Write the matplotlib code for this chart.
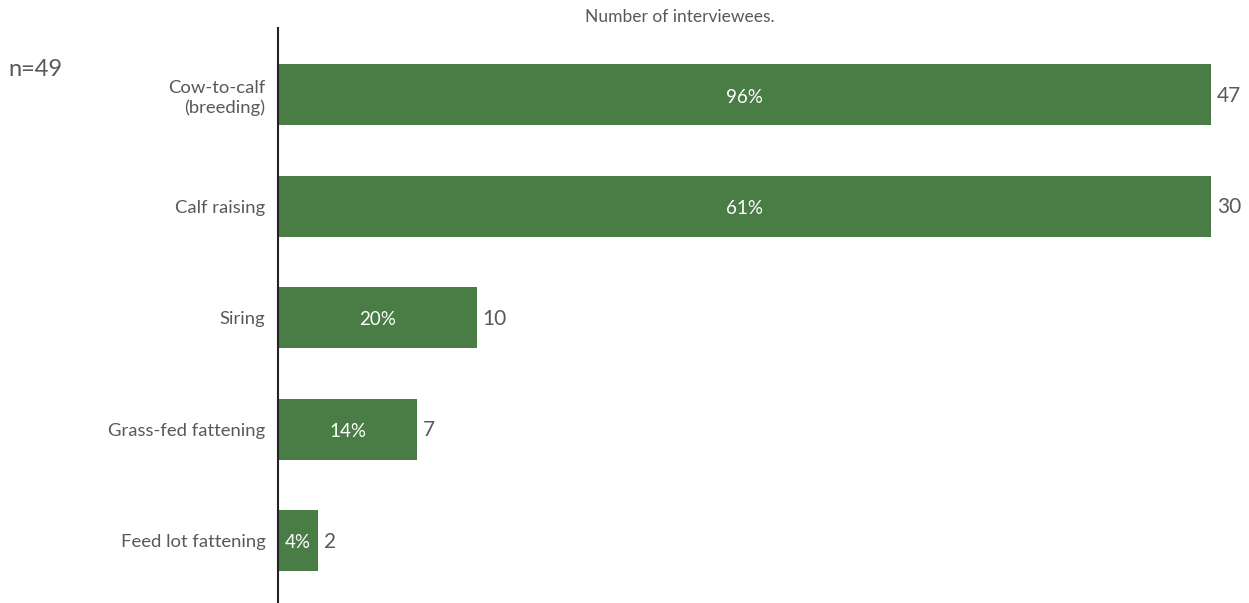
import matplotlib.pyplot as plt

categories = ['Cow-to-calf\n(breeding)', 'Calf raising', 'Siring', 'Grass-fed fattening', 'Feed lot fattening']
counts = [47, 30, 10, 7, 2]
# bar lengths as drawn in the source chart (the "Calf raising" bar runs full width there)
bar_lengths = [47, 47, 10, 7, 2]
percents = ['96%', '61%', '20%', '14%', '4%']

bar_color = '#4a7c45'
text_color = '#595959'
font = 'Lato'
weight = 'normal'

fig = plt.figure(figsize=(12.49, 6.03), dpi=100, facecolor='w')
ax = fig.add_axes([0.2226, 0.0, 0.7774, 0.9536])

ypos = list(range(len(categories)))
ax.barh(ypos, bar_lengths, height=0.55, color=bar_color)

for y, length, cnt, pct in zip(ypos, bar_lengths, counts, percents):
    ax.text(length / 2, y + 0.02, pct, ha='center', va='center', color='white',
            fontsize=13.5, family=font, fontweight=weight)
    ax.text(length + 0.3, y + 0.01, str(cnt), ha='left', va='center', color=text_color,
            fontsize=15, family=font, fontweight=weight)

ax.set_xlim(0, 48.9)
ax.set_ylim(4.56, -0.6)
ax.set_yticks(ypos)
ax.set_yticklabels(categories, fontsize=13.3, family=font, fontweight=weight,
                   color=text_color, linespacing=1.25)
ax.tick_params(axis='y', length=0, pad=9)
ax.set_xticks([])
for s in ['top', 'right', 'bottom']:
    ax.spines[s].set_visible(False)
ax.spines['left'].set_color('#222222')
ax.spines['left'].set_linewidth(1.5)

fig.text(680 / 1249, 1 - 17 / 603, 'Number of interviewees.', ha='center', va='center',
         fontsize=12.5, family=font, fontweight=weight, color=text_color)
fig.text(8 / 1249, 1 - 70 / 603, 'n=49', ha='left', va='center',
         fontsize=17, family=font, fontweight=weight, color=text_color)

fig.savefig('out.png', dpi=100, facecolor='w')
